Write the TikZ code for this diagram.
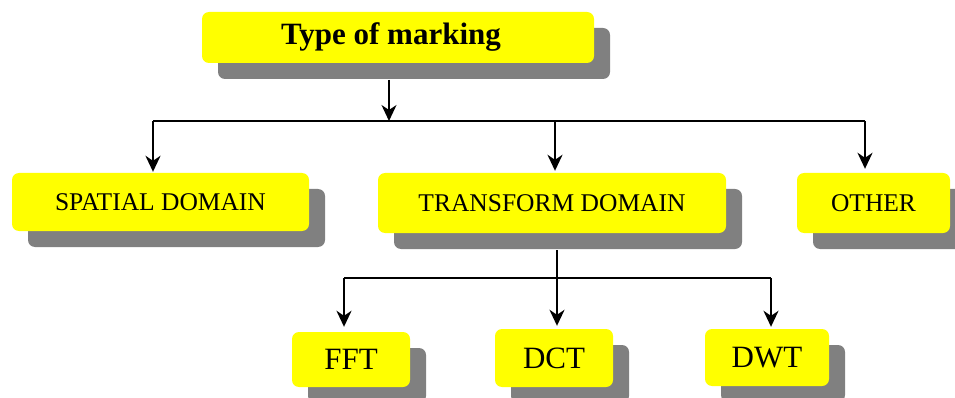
\documentclass[tikz,border=0pt]{standalone}
\usepackage{fontspec}
\setmainfont{Liberation Serif}
\usetikzlibrary{arrows.meta,positioning,shadows}
\definecolor{mkyellow}{RGB}{255,255,0}
\definecolor{mkgray}{RGB}{128,128,128}
\tikzset{
  tbox/.style={fill=mkyellow, rounded corners=7pt, inner sep=0pt,
    font=\fontsize{25.5}{30}\selectfont,
    drop shadow={shadow xshift=16pt, shadow yshift=-16pt, fill=mkgray, opacity=1}},
  bigbox/.style={tbox, font=\fontsize{31}{36}\selectfont},
  conn/.style={line width=2pt},
  arr/.style={conn, -{Stealth[length=16pt,width=15pt,inset=5pt]}}
}

\begin{document}
\begin{tikzpicture}[x=1pt,y=-1pt]
\useasboundingbox (0,0) rectangle (955,398);
% root and first level
\node[bigbox, minimum width=392pt, minimum height=51pt] (root) at (398,37.5)
  {\raisebox{4pt}{\bfseries Type of marking}\hspace*{14pt}};
\node[tbox, minimum width=297pt, minimum height=58pt] (spatial) at (160.5,202) {SPATIAL DOMAIN};
\node[tbox, minimum width=348pt, minimum height=60pt] (transform) at (552,203) {TRANSFORM DOMAIN};
\node[tbox, minimum width=153pt, minimum height=60pt] (other) at (873.5,203) {OTHER};
% transform methods
\node[bigbox, minimum width=118pt, minimum height=55pt] (fft) at (351,359.5) {FFT};
\node[bigbox, minimum width=118pt, minimum height=58pt] (dct) at (554,358) {DCT};
\node[bigbox, minimum width=124pt, minimum height=57pt] (dwt) at (767,357.5) {DWT};

% upper bus
\coordinate (rootout) at (389,80);
\coordinate (busL) at (153,121);
\coordinate (busM) at (555,121);
\coordinate (busR) at (865,121);
\draw[arr] (rootout) -- (rootout |- busL);
\draw[conn] (busL) -- (busR);
\draw[arr] (busL) -- ([yshift=1pt]busL |- spatial.north);
\draw[arr] (busM) -- ([yshift=2pt]busM |- transform.north);
\draw[arr] (busR) -- ([yshift=4pt]busR |- other.north);

% lower bus
\coordinate (trout) at (557,250);
\coordinate (subL) at (344,278);
\coordinate (subM) at (557,278);
\coordinate (subR) at (771,278);
\draw[conn] (trout) -- (subM);
\draw[conn] (subL) -- (subR);
\draw[arr] (subL) -- ([yshift=5pt]subL |- fft.north);
\draw[arr] (subM) -- ([yshift=3pt]subM |- dct.north);
\draw[arr] (subR) -- ([yshift=2pt]subR |- dwt.north);
\end{tikzpicture}
\end{document}
